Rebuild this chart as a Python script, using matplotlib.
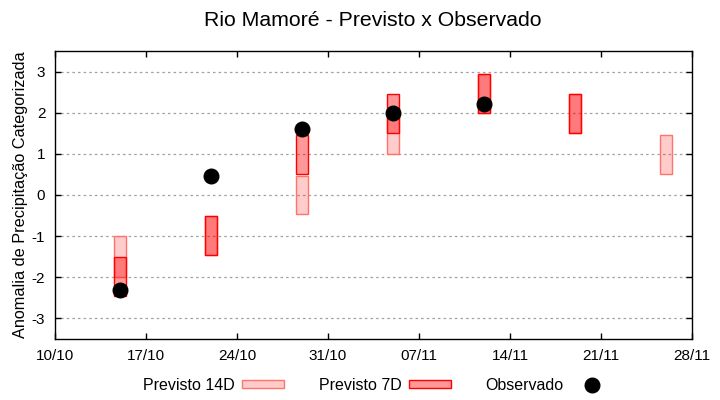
import matplotlib
matplotlib.use("Agg")
import matplotlib.pyplot as plt
import matplotlib.dates as mdates
from matplotlib.patches import Patch
from matplotlib.lines import Line2D
from datetime import datetime, timedelta

plt.rcParams['font.family'] = ['Liberation Sans', 'DejaVu Sans']

# ---- data ----
dates_14d = ["2023-10-15", "2023-10-22", "2023-10-29", "2023-11-05", "2023-11-12", "2023-11-19", "2023-11-26"]
low_14d = [-2.0, -1.45, -0.45, 1.0, 2.0, 1.5, 0.5]
high_14d = [-1.0, -0.5, 0.45, 2.0, 2.95, 2.45, 1.45]

dates_7d = ["2023-10-15", "2023-10-22", "2023-10-29", "2023-11-05", "2023-11-12", "2023-11-19"]
low_7d = [-2.45, -1.45, 0.5, 1.5, 2.0, 1.5]
high_7d = [-1.5, -0.5, 1.45, 2.45, 2.95, 2.45]

dates_obs = ["2023-10-15", "2023-10-22", "2023-10-29", "2023-11-05", "2023-11-12"]
obs = [-2.3, 0.45, 1.6, 2.0, 2.22]

yticks = [-3, -2, -1, 0, 1, 2, 3]
x_start = "2023-10-10"
x_end = "2023-11-28"

def to_dt(lst):
    return [datetime.strptime(s, "%Y-%m-%d") for s in lst]

fig = plt.figure(figsize=(7.2, 4.0), dpi=100)
ax = fig.add_axes([55/720, 1-339/400, (692-55)/720, (339-51)/400])

d14 = to_dt(dates_14d)
d7 = to_dt(dates_7d)
dob = to_dt(dates_obs)

w = 0.92
ax.bar(d14, [h - l for h, l in zip(high_14d, low_14d)], bottom=low_14d, width=w,
       facecolor=(1, 0, 0, 0.2), edgecolor=(1, 0.45, 0.42, 1), linewidth=1.0, zorder=2)
ax.bar(d7, [h - l for h, l in zip(high_7d, low_7d)], bottom=low_7d, width=w,
       facecolor=(1, 0, 0, 0.4), edgecolor=(1, 0, 0, 1), linewidth=1.0, zorder=3)
ax.plot(dob, obs, linestyle='none', marker='o', markersize=10.5, color='black', zorder=4)

xs = datetime.strptime(x_start, "%Y-%m-%d")
xe = datetime.strptime(x_end, "%Y-%m-%d")
ax.set_xlim(xs, xe)
ax.set_ylim(-3.5, 3.5)
ticks = []
t = xs
while t <= xe:
    ticks.append(t)
    t += timedelta(days=7)
ax.set_xticks(ticks)
ax.xaxis.set_major_formatter(mdates.DateFormatter("%d/%m"))
ax.set_yticks(yticks)
ax.set_yticklabels([str(v) for v in yticks])

ax.tick_params(axis='x', direction='in', length=4.0, width=1, top=True, bottom=True,
               labelsize=11, pad=7, colors='black')
ax.tick_params(axis='y', direction='in', length=4.5, width=1, left=True, right=True,
               labelsize=11, pad=7, colors='black')
for s in ax.spines.values():
    s.set_linewidth(1)
    s.set_color('black')

ax.yaxis.grid(True, linestyle=(0, (2, 2.5)), color='#a0a0a0', linewidth=0.9, zorder=0)
ax.set_axisbelow(True)

ax.set_ylabel("Anomalia de Precipitação Categorizada", fontsize=11.7, labelpad=3)
fig.text(373/720, 1-20/400, "Rio Mamoré - Previsto x Observado", fontsize=15.3,
         ha='center', va='center')

handles = [
    Patch(facecolor=(1, 0, 0, 0.2), edgecolor=(1, 0.45, 0.42, 1), linewidth=1.0),
    Patch(facecolor=(1, 0, 0, 0.4), edgecolor=(1, 0, 0, 1), linewidth=1.0),
    Line2D([], [], linestyle='none', marker='o', markersize=10.5, color='black'),
]
labels = ["Previsto 14D", "Previsto 7D", "Observado"]
fig.legend(handles, labels, loc='center', bbox_to_anchor=(378/720, 1-385/400), ncol=3,
           frameon=False, markerfirst=False, fontsize=11.5, handlelength=2.6,
           handleheight=0.45, handletextpad=0.45, columnspacing=2.2)

fig.savefig("out.png", dpi=100)
